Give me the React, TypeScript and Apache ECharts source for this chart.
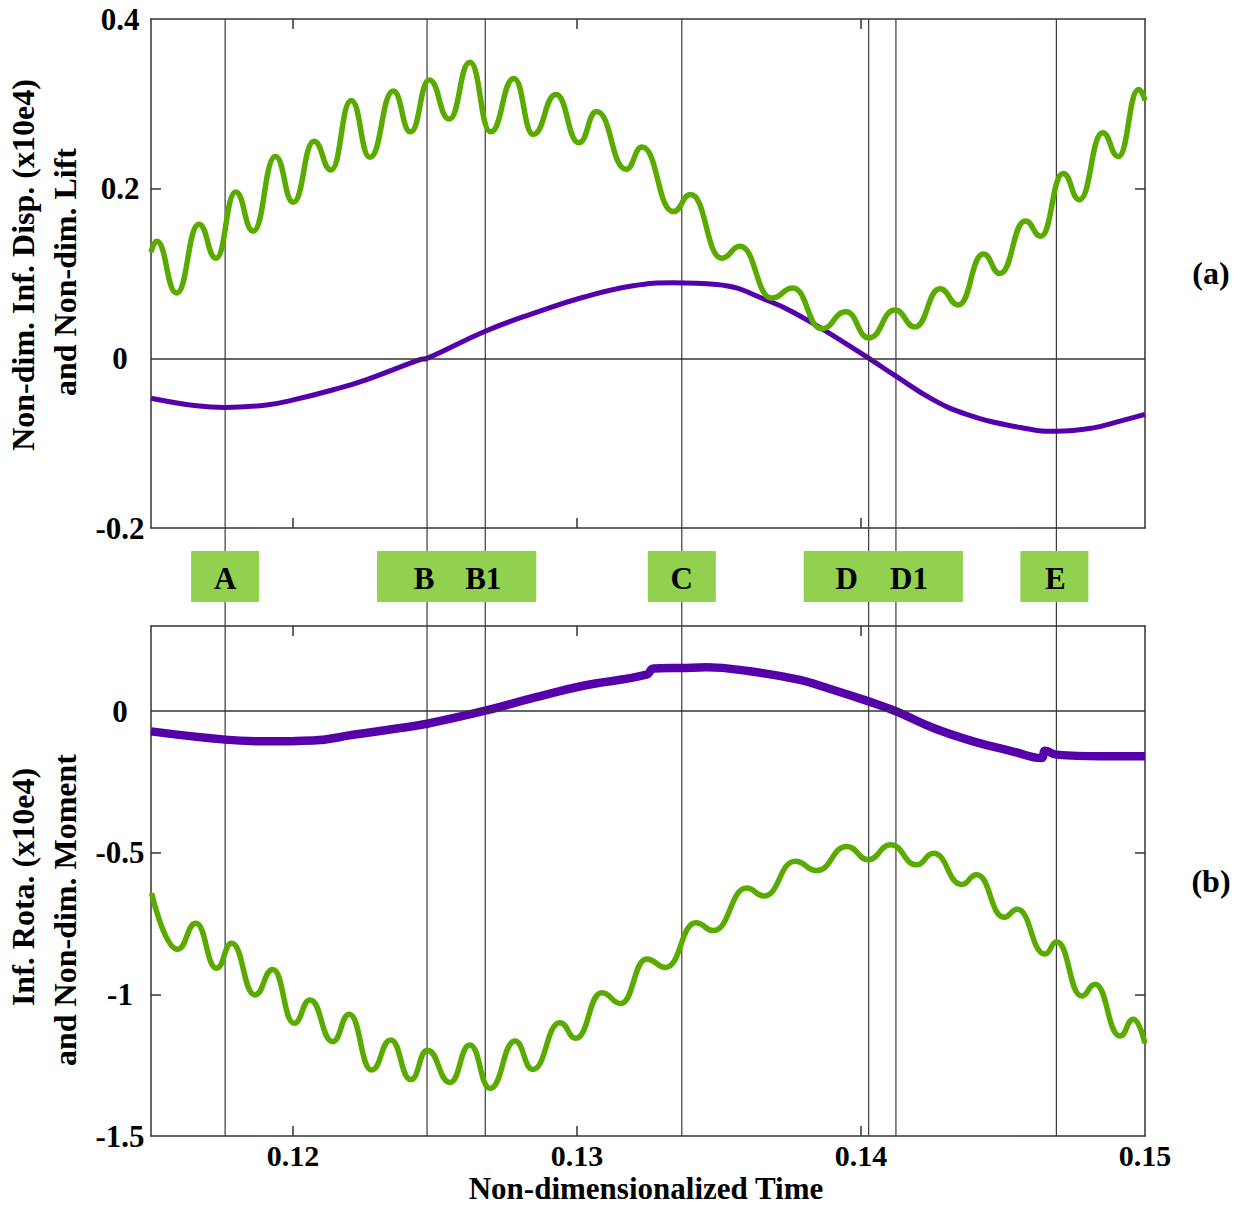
import React, { useEffect, useRef } from 'react';
import * as echarts from 'echarts';

// ---------- data ----------
const xLabelValues = [0.12, 0.13, 0.14, 0.15];
const xTickValues = [0.12, 0.13, 0.14];
const topYLabels = [-0.2, 0, 0.2, 0.4];
const topYTicks = [0.2];
const botYLabels = [-1.5, -1, -0.5, 0];
const botYTicks = [-1, -0.5];

const markerNames = ['A', 'B', 'B1', 'C', 'D', 'D1', 'E'];
const markerTimes = [0.11761, 0.12472, 0.12677, 0.13369, 0.14027, 0.14123, 0.14688];

// (a) green: non-dim. inflow displacement
const dispTime = [
  0.115, 0.1152, 0.1159, 0.11669, 0.11729, 0.11798, 0.1186, 0.11938, 0.12001, 0.12074,
  0.12134, 0.12205, 0.12271, 0.12353, 0.12414, 0.1248, 0.1255, 0.12623, 0.12696, 0.12778,
  0.12846, 0.12926, 0.13007, 0.13069, 0.13173, 0.13229, 0.13339, 0.134, 0.1351, 0.13574,
  0.13686, 0.1376, 0.13862, 0.13947, 0.14028, 0.1412, 0.1419, 0.14278, 0.14343, 0.14431,
  0.14489, 0.14579, 0.14633, 0.14712, 0.14769, 0.14851, 0.14906, 0.14978, 0.15,
];
const dispValue = [
  0.125, 0.138, 0.077, 0.158, 0.118, 0.196, 0.15, 0.238, 0.184, 0.256,
  0.222, 0.304, 0.237, 0.315, 0.267, 0.328, 0.282, 0.349, 0.267, 0.33,
  0.264, 0.311, 0.254, 0.291, 0.223, 0.249, 0.173, 0.193, 0.118, 0.132,
  0.071, 0.083, 0.035, 0.055, 0.024, 0.057, 0.037, 0.082, 0.063, 0.123,
  0.1, 0.162, 0.144, 0.218, 0.187, 0.266, 0.238, 0.317, 0.304,
];

// (a) purple: non-dim. lift
const liftTime = [
  0.115, 0.11661, 0.11761, 0.11907, 0.12001, 0.12142, 0.1226, 0.12447, 0.12472, 0.12677,
  0.12846, 0.13022, 0.13198, 0.13339, 0.13492, 0.1368, 0.13785, 0.13862, 0.14028, 0.14123,
  0.14255, 0.14372, 0.14536, 0.14688, 0.14818, 0.14912, 0.15,
];
const liftValue = [
  -0.047, -0.056, -0.058, -0.055, -0.049, -0.037, -0.025, -0.0015, 0.0, 0.032,
  0.053, 0.072, 0.0855, 0.089, 0.087, 0.067, 0.05, 0.035, 0.0, -0.021,
  -0.049, -0.066, -0.08, -0.086, -0.082, -0.074, -0.066,
];

// (b) purple: inflow rotation
const rotaTime = [
  0.115, 0.11761, 0.11907, 0.12071, 0.12212, 0.12377, 0.12472, 0.12677, 0.12846, 0.13022,
  0.13245, 0.13269, 0.13369, 0.13457, 0.13609, 0.13785, 0.13856, 0.14027, 0.14123, 0.14255,
  0.14395, 0.14536, 0.14636, 0.14648, 0.14688, 0.14842, 0.15,
];
const rotaValue = [
  -0.072, -0.101, -0.107, -0.104, -0.084, -0.06, -0.045, 0.001, 0.046, 0.089,
  0.128, 0.15, 0.152, 0.154, 0.14, 0.11, 0.089, 0.034, -0.001, -0.06,
  -0.107, -0.143, -0.166, -0.14, -0.154, -0.16, -0.16,
];

// (b) green: non-dim. moment
const momentTime = [
  0.11502, 0.11594, 0.11658, 0.11731, 0.11784, 0.11866, 0.11929, 0.12004, 0.1206, 0.1214,
  0.12198, 0.12277, 0.12344, 0.12415, 0.12473, 0.12553, 0.12623, 0.12694, 0.12782, 0.12844,
  0.1294, 0.12996, 0.13087, 0.13154, 0.13245, 0.13312, 0.13419, 0.1348, 0.13598, 0.13658,
  0.13768, 0.13844, 0.1395, 0.14026, 0.14104, 0.14196, 0.14255, 0.14355, 0.14407, 0.14504,
  0.1455, 0.14648, 0.14689, 0.14777, 0.14824, 0.14912, 0.14959, 0.15,
];
const momentValue = [
  -0.643, -0.841, -0.749, -0.908, -0.82, -1.002, -0.912, -1.102, -1.02, -1.167,
  -1.07, -1.267, -1.161, -1.301, -1.197, -1.311, -1.179, -1.332, -1.165, -1.265,
  -1.1, -1.155, -0.994, -1.032, -0.875, -0.905, -0.747, -0.775, -0.625, -0.653,
  -0.53, -0.563, -0.478, -0.525, -0.472, -0.543, -0.502, -0.612, -0.578, -0.728,
  -0.7, -0.858, -0.814, -1.006, -0.964, -1.147, -1.088, -1.173,
];

const boxGroups = [
  { labels: ['A'], first: 0, last: 0, padL: 34, padR: 34 },
  { labels: ['B', 'B1'], first: 1, last: 2, padL: 50, padR: 51 },
  { labels: ['C'], first: 3, last: 3, padL: 34, padR: 34 },
  { labels: ['D', 'D1'], first: 4, last: 5, padL: 65, padR: 67 },
  { labels: ['E'], first: 6, last: 6, padL: 36, padR: 32 },
];
const labelShift: Record<string, number> = { A: 0, B: -3, B1: -2, C: 0, D: -22, D1: 13, E: -1 };

const GREEN = '#5aab00';
const PURPLE = '#5500aa';
const AXIS = '#333333';
const FONT = "'Liberation Serif', 'Times New Roman', serif";

const zip = (xs: number[], ys: number[]) => xs.map((x, i) => [x, ys[i]]);

export default function App() {
  const ref = useRef<HTMLDivElement>(null);

  useEffect(() => {
    const chart = echarts.init(ref.current!, null, { renderer: 'svg' });

    const xAxis = (gridIndex: number, position: string, showLabel: boolean) => ({
      type: 'value',
      gridIndex,
      position,
      min: 0.115,
      max: 0.15,
      axisLine: { show: true, onZero: false, lineStyle: { color: AXIS, width: 1.5 } },
      axisTick: {
        show: true,
        inside: true,
        length: 10,
        customValues: xTickValues,
        lineStyle: { color: AXIS, width: 1.5 },
      },
      axisLabel: {
        show: showLabel,
        customValues: xLabelValues,
        margin: 4,
        fontFamily: FONT,
        fontWeight: 'bold',
        fontSize: 30,
        color: '#000',
        formatter: (v: number) => String(+v.toFixed(3)),
      },
      splitLine: { show: false },
    });

    const yAxis = (
      gridIndex: number,
      position: string,
      min: number,
      max: number,
      labels: number[],
      ticks: number[],
      showLabel: boolean,
    ) => ({
      type: 'value',
      gridIndex,
      position,
      min,
      max,
      axisLine: { show: true, onZero: false, lineStyle: { color: AXIS, width: 1.5 } },
      axisTick: {
        show: true,
        inside: true,
        length: 10,
        customValues: ticks,
        lineStyle: { color: AXIS, width: 1.5 },
      },
      axisLabel: {
        show: showLabel,
        customValues: labels,
        align: 'center',
        margin: 31,
        fontFamily: FONT,
        fontWeight: 'bold',
        fontSize: 31,
        color: '#000',
        formatter: (v: number) => String(+v.toFixed(3)),
      },
      splitLine: { show: false },
    });

    const zeroLine = {
      silent: true,
      symbol: ['none', 'none'],
      label: { show: false },
      lineStyle: { color: AXIS, width: 1.5, type: 'solid' },
      data: [{ yAxis: 0 }],
    };

    const lineSeries = (
      name: string,
      xi: number,
      yi: number,
      data: number[][],
      color: string,
      width: number,
      withZero: boolean,
      wavy: boolean,
    ) => ({
      name,
      type: 'line',
      xAxisIndex: xi,
      yAxisIndex: yi,
      data,
      smooth: wavy ? 0.5 : 0.45,
      ...(wavy ? { smoothMonotone: 'x' } : {}),
      showSymbol: false,
      symbol: 'none',
      lineStyle: { color, width },
      itemStyle: { color },
      z: 3,
      ...(withZero ? { markLine: zeroLine } : {}),
    });

    chart.setOption({
      animation: false,
      backgroundColor: '#ffffff',
      grid: [
        { left: 151, top: 19, width: 994, height: 509, show: false },
        { left: 151, top: 626, width: 994, height: 510, show: false },
      ],
      xAxis: [
        xAxis(0, 'bottom', false),
        xAxis(0, 'top', false),
        xAxis(1, 'bottom', true),
        xAxis(1, 'top', false),
      ],
      yAxis: [
        yAxis(0, 'left', -0.2, 0.4, topYLabels, topYTicks, true),
        yAxis(0, 'right', -0.2, 0.4, topYLabels, topYTicks, false),
        yAxis(1, 'left', -1.5, 0.3, botYLabels, botYTicks, true),
        yAxis(1, 'right', -1.5, 0.3, botYLabels, botYTicks, false),
      ],
      series: [
        lineSeries('Lift', 0, 0, zip(liftTime, liftValue), PURPLE, 5, true, false),
        lineSeries('Inf. Disp.', 0, 0, zip(dispTime, dispValue), GREEN, 5.5, false, true),
        lineSeries('Inf. Rota.', 2, 2, zip(rotaTime, rotaValue), PURPLE, 8.5, true, false),
        lineSeries('Moment', 2, 2, zip(momentTime, momentValue), GREEN, 5.5, false, true),
      ],
    });

    // markers, boxes and texts positioned via the axes' scales
    const px = (t: number) => chart.convertToPixel({ xAxisIndex: 0 }, t) as number;
    const yTop = chart.convertToPixel({ yAxisIndex: 0 }, 0.4) as number;
    const yBot = chart.convertToPixel({ yAxisIndex: 2 }, -1.5) as number;
    const markerPx = markerTimes.map(px);

    const textStyle = (size: number) => ({
      fill: '#000',
      font: `bold ${size}px ${FONT}`,
      align: 'center',
      verticalAlign: 'middle',
    });

    const graphics: any[] = [];
    markerPx.forEach((x) => {
      graphics.push({
        type: 'line',
        z: 1,
        silent: true,
        shape: { x1: x, y1: yTop, x2: x, y2: yBot },
        style: { stroke: '#3a3a3a', lineWidth: 1.2 },
      });
    });
    boxGroups.forEach((g) => {
      const left = markerPx[g.first] - g.padL;
      const right = markerPx[g.last] + g.padR;
      graphics.push({
        type: 'rect',
        z: 10,
        silent: true,
        shape: { x: left, y: 551, width: right - left, height: 51 },
        style: { fill: '#92d050' },
      });
    });
    markerNames.forEach((n, i) => {
      graphics.push({
        type: 'text',
        z: 11,
        silent: true,
        x: markerPx[i] + labelShift[n],
        y: 578,
        style: { text: n, ...textStyle(31) },
      });
    });
    const rotated = (text: string, x: number, y: number) => ({
      type: 'text',
      z: 11,
      silent: true,
      x,
      y,
      rotation: Math.PI / 2,
      style: { text, ...textStyle(32) },
    });
    graphics.push(rotated('Non-dim. Inf. Disp. (x10e4)', 23, 265));
    graphics.push(rotated('and Non-dim. Lift', 65, 272));
    graphics.push(rotated('Inf. Rota. (x10e4)', 23, 887));
    graphics.push(rotated('and Non-dim. Moment', 65, 910));
    graphics.push({ type: 'text', z: 11, silent: true, x: 1211, y: 273, style: { text: '(a)', ...textStyle(32) } });
    graphics.push({ type: 'text', z: 11, silent: true, x: 1211, y: 881, style: { text: '(b)', ...textStyle(32) } });
    graphics.push({
      type: 'text',
      z: 11,
      silent: true,
      x: 646,
      y: 1188,
      style: { text: 'Non-dimensionalized Time', ...textStyle(31) },
    });

    chart.setOption({ graphic: graphics });

    return () => chart.dispose();
  }, []);

  return (
    <div
      ref={ref}
      style={{ position: 'absolute', left: 0, top: 0, width: 1243, height: 1207, background: '#fff' }}
    />
  );
}
